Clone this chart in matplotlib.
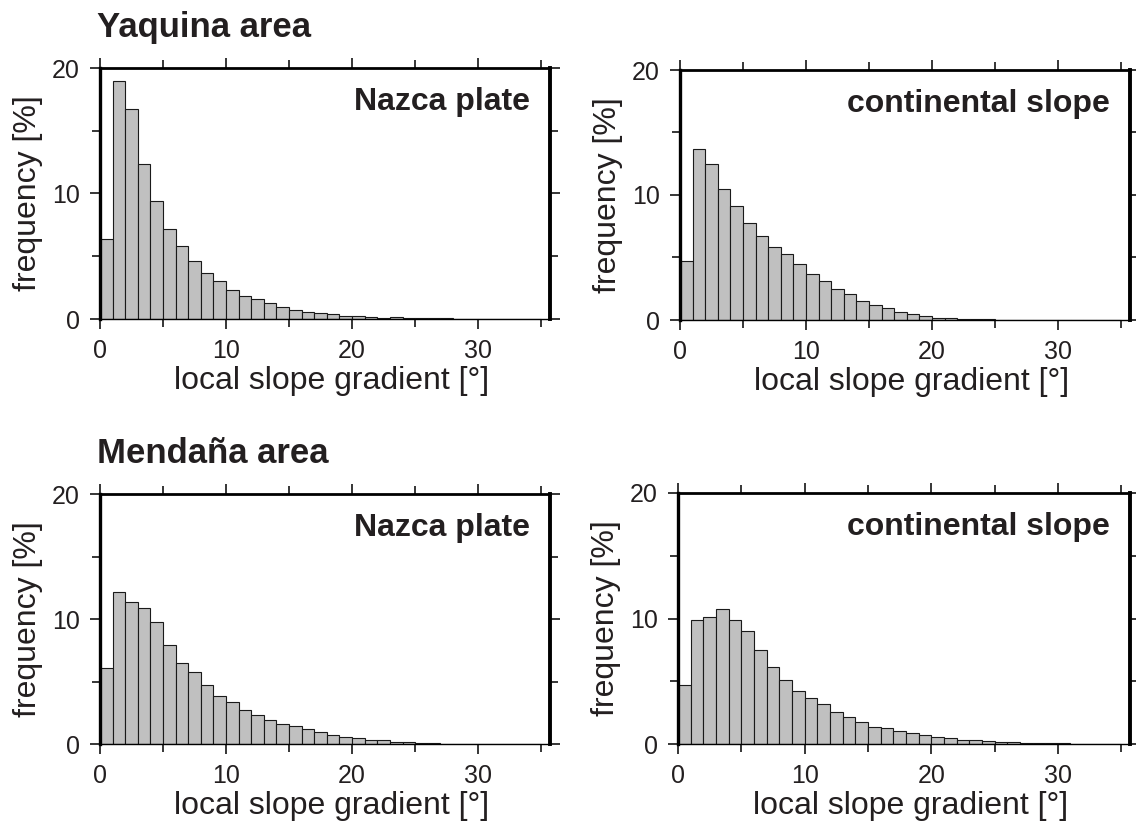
import matplotlib
matplotlib.use("Agg")
import matplotlib.pyplot as plt
import numpy as np
from matplotlib.ticker import MultipleLocator

plt.rcParams['font.family'] = ['Liberation Sans', 'DejaVu Sans']

# bin edges: 1-degree bins starting at 0
yaquina_nazca = [6.4, 19.0, 16.7, 12.35, 9.4, 7.2, 5.8, 4.65, 3.7, 3.05, 2.3, 1.85, 1.57,
                 1.27, 0.96, 0.74, 0.56, 0.45, 0.37, 0.27, 0.21, 0.16, 0.10, 0.13, 0.08,
                 0.06, 0.05, 0.04, 0.03, 0.02, 0.02, 0.01, 0.01, 0.01, 0.01]
yaquina_cont = [4.7, 13.65, 12.5, 10.45, 9.15, 7.75, 6.7, 5.8, 5.25, 4.5, 3.65, 3.1, 2.5,
                2.05, 1.5, 1.2, 0.93, 0.64, 0.45, 0.29, 0.16, 0.13, 0.08, 0.05, 0.04,
                0.03, 0.02, 0.02, 0.01, 0.01, 0.01, 0.01, 0.0, 0.0, 0.0]
mendana_nazca = [6.05, 12.2, 11.4, 10.9, 9.8, 7.9, 6.5, 5.75, 4.7, 3.85, 3.4, 2.7, 2.3,
                 1.95, 1.57, 1.44, 1.23, 0.99, 0.75, 0.59, 0.45, 0.35, 0.29, 0.19, 0.13,
                 0.11, 0.05, 0.04, 0.03, 0.03, 0.02, 0.02, 0.01, 0.01, 0.01]
mendana_cont = [4.7, 9.85, 10.1, 10.75, 9.9, 9.0, 7.5, 6.15, 5.1, 4.25, 3.7, 3.15, 2.55,
                2.15, 1.73, 1.38, 1.25, 1.01, 0.85, 0.69, 0.53, 0.48, 0.35, 0.29, 0.24,
                0.19, 0.13, 0.11, 0.08, 0.05, 0.04, 0.03, 0.02, 0.01, 0.01]

panel_labels = ["Nazca plate", "continental slope", "Nazca plate", "continental slope"]
area_titles = ["Yaquina area", "Mendaña area"]
xlabel = "local slope gradient [°]"
ylabel = "frequency [%]"

W, H = 1136, 822
fig = plt.figure(figsize=(W / 100, H / 100), dpi=100)


def ax_at(left, top, right, bottom):
    return fig.add_axes([left / W, 1 - bottom / H, (right - left) / W, (bottom - top) / H])


def fx(x):
    return x / W


def fy(y):
    return 1 - y / H


boxes = [(100, 68, 550, 319), (680, 70, 1130, 320),
         (100, 494, 550, 744), (678, 493, 1130, 744)]
datas = [yaquina_nazca, yaquina_cont, mendana_nazca, mendana_cont]

for i, (box, data) in enumerate(zip(boxes, datas)):
    ax = ax_at(*box)
    vals = np.array(data)
    edges = np.arange(len(vals) + 1)
    ax.bar(edges[:-1], vals, width=1.0, align='edge', color='#c0c0c0',
           edgecolor='#1a1a1a', linewidth=0.8, zorder=2)
    ax.set_xlim(0, 35.7)
    ax.set_ylim(0, 20)
    ax.xaxis.set_major_locator(MultipleLocator(10))
    ax.xaxis.set_minor_locator(MultipleLocator(5))
    ax.yaxis.set_major_locator(MultipleLocator(10))
    ax.yaxis.set_minor_locator(MultipleLocator(5))
    ax.tick_params(which='both', direction='out', top=True, right=True,
                   labeltop=False, labelright=False, width=1.1, color='black')
    ax.tick_params(which='major', length=7.5, labelsize=18, pad=7, labelcolor='#231f20')
    ax.tick_params(which='minor', length=5.5)
    ax.spines['left'].set_linewidth(2.4)
    ax.spines['right'].set_linewidth(2.8)
    ax.spines['top'].set_linewidth(2.0)
    ax.spines['bottom'].set_linewidth(1.0)
    for s in ax.spines.values():
        s.set_zorder(5)
    ax.text(0.955, 0.925, panel_labels[i], transform=ax.transAxes, ha='right', va='top',
            fontsize=23, fontweight='bold', color='#231f20')
    left, top, right, bottom = box
    cx = (left + right) / 2 + 7
    fig.text(fx(cx), fy(bottom + 70), xlabel, ha='center', va='baseline',
             fontsize=23, color='#231f20')
    fig.text(fx(left - 72), fy((top + bottom) / 2), ylabel, ha='center', va='center',
             rotation=90, fontsize=23, color='#231f20')

fig.text(fx(97), fy(37), area_titles[0], ha='left', va='baseline',
         fontsize=25, fontweight='bold', color='#231f20')
fig.text(fx(97), fy(463), area_titles[1], ha='left', va='baseline',
         fontsize=25, fontweight='bold', color='#231f20')

fig.savefig("out.png", dpi=100)
